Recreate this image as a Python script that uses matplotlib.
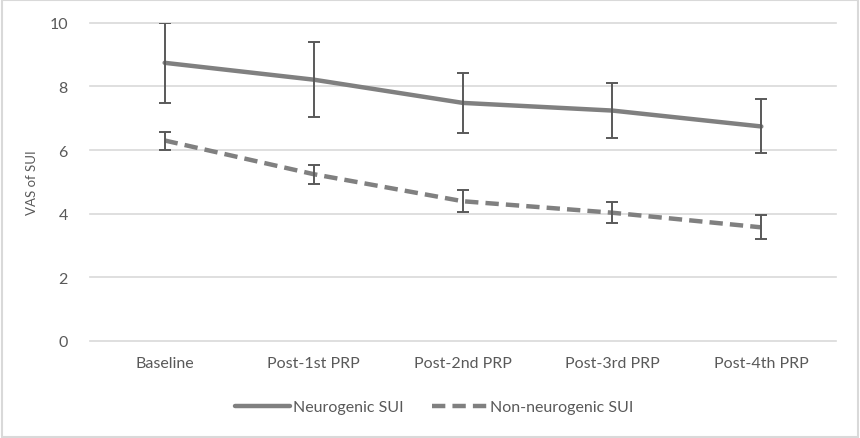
import matplotlib.pyplot as plt
from matplotlib.patches import Rectangle

categories = ['Baseline', 'Post-1st PRP', 'Post-2nd PRP', 'Post-3rd PRP', 'Post-4th PRP']

neuro_mean = [8.74, 8.21, 7.48, 7.24, 6.74]
neuro_upper = [10.0, 9.40, 8.43, 8.09, 7.59]
neuro_lower = [7.49, 7.05, 6.52, 6.39, 5.90]

non_mean = [6.30, 5.24, 4.39, 4.03, 3.57]
non_upper = [6.58, 5.52, 4.73, 4.36, 3.95]
non_lower = [6.00, 4.93, 4.04, 3.70, 3.20]

plt.rcParams['font.family'] = ['Lato', 'DejaVu Sans']

fig = plt.figure(figsize=(8.6, 4.39), dpi=100)
ax = fig.add_axes([0.1047, 0.221, 0.8673, 0.725])

x = list(range(len(categories)))
line_col = '#808080'
err_col = '#595959'
text_col = '#595959'

def err(mean, lo, hi):
    return [[m - l for m, l in zip(mean, lo)], [h - m for m, h in zip(mean, hi)]]

ax.errorbar(x, neuro_mean, yerr=err(neuro_mean, neuro_lower, neuro_upper), fmt='none',
            ecolor=err_col, elinewidth=1.4, capsize=4, capthick=1.4, zorder=3)
ax.errorbar(x, non_mean, yerr=err(non_mean, non_lower, non_upper), fmt='none',
            ecolor=err_col, elinewidth=1.4, capsize=4, capthick=1.4, zorder=3)
ax.plot(x, neuro_mean, color=line_col, lw=3.2, solid_capstyle='round', label='Neurogenic SUI', zorder=2)
ax.plot(x, non_mean, color=line_col, lw=3.2, dashes=(3, 1.6), label='Non-neurogenic SUI', zorder=2)

ax.set_xlim(-0.5, len(categories) - 0.5)
ax.set_ylim(0, 10)
ax.set_yticks([0, 2, 4, 6, 8, 10])
ax.set_xticks(x)
ax.set_xticklabels(categories)
ax.grid(axis='y', color='#d9d9d9', lw=1.2)
for g in ax.yaxis.get_gridlines():
    g.set_clip_on(False)
ax.set_axisbelow(True)
for s in ax.spines.values():
    s.set_visible(False)
ax.tick_params(length=0, labelsize=11.5, colors=text_col, pad=11)
ax.tick_params(axis='y', pad=16)
ax.set_ylabel('VAS of SUI', fontsize=9.5, color=text_col, labelpad=8)

fig.legend(loc='center', bbox_to_anchor=(0.505, 0.07), ncol=2, frameon=False,
           fontsize=11.5, labelcolor=text_col, handlelength=3.4, handletextpad=0.2,
           columnspacing=1.8)

fig.add_artist(Rectangle((0.002, 0.003), 0.996, 0.994, transform=fig.transFigure,
                         fill=False, edgecolor='#d9d9d9', lw=1.5))

fig.savefig('out.png', dpi=100)
